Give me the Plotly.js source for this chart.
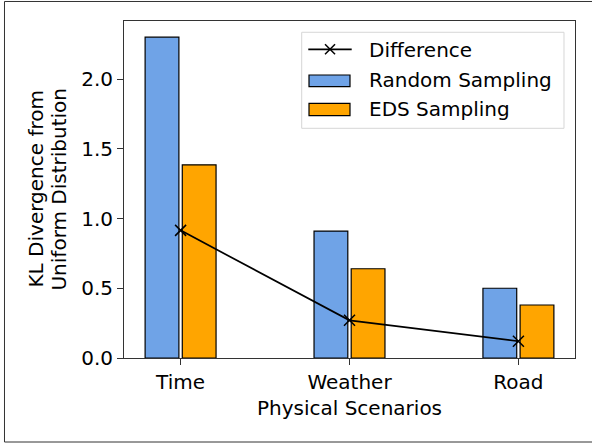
<!DOCTYPE html>
<html>
<head>
<meta charset="utf-8">
<script src="https://cdn.plot.ly/plotly-3.0.1.min.js"></script>
<style>
  html, body { margin: 0; padding: 0; background: #ffffff; overflow: hidden; }
  #chart { width: 592px; height: 443px; }
</style>
</head>
<body>
<div id="chart"></div>
<script>
// Data
const categories = ["Time", "Weather", "Road"];
const categoryPos = [0, 1, 2];
const randomSampling = [2.30, 0.91, 0.50];
const edsSampling = [1.385, 0.64, 0.38];
const difference = [0.915, 0.27, 0.12];
const yTickVals = [0.0, 0.5, 1.0, 1.5, 2.0];
const legendNames = ["Difference", "Random Sampling", "EDS Sampling"];

const FONT = "DejaVu Sans, Verdana, sans-serif";
const FS = 20;
const BLUE = "#6FA3E7";
const ORANGE = "#FFA500";

const traces = [
  {
    type: "scatter", mode: "lines+markers", name: legendNames[0],
    x: categoryPos, y: difference,
    line: { color: "#000000", width: 1.7 },
    marker: { symbol: "x-thin", size: 11, color: "#000000", line: { color: "#000000", width: 1.5 } },
    hoverinfo: "skip"
  },
  {
    type: "bar", name: legendNames[1],
    x: categoryPos, y: randomSampling,
    width: 0.2, offset: -0.21,
    marker: { color: BLUE, line: { color: "#000000", width: 1.2 } },
    hoverinfo: "skip"
  },
  {
    type: "bar", name: legendNames[2],
    x: categoryPos, y: edsSampling,
    width: 0.2, offset: 0.01,
    marker: { color: ORANGE, line: { color: "#000000", width: 1.2 } },
    hoverinfo: "skip"
  }
];

// Figure frame (top, left, bottom edges) in paper coordinates
const frameShapes = [
  { type: "line", xref: "paper", yref: "paper", x0: -0.2650, x1: 1.06, y0: 1.0579, y1: 1.0579,
    line: { color: "#333333", width: 1 } },
  { type: "line", xref: "paper", yref: "paper", x0: -0.2650, x1: -0.2650, y0: 1.0579, y1: -0.2493,
    line: { color: "#333333", width: 1 } },
  { type: "line", xref: "paper", yref: "paper", x0: -0.2650, x1: 1.06, y0: -0.2493, y1: -0.2493,
    line: { color: "#333333", width: 1 } }
];

// Custom legend (matplotlib style) in paper coordinates
const legendShapes = [
  { type: "rect", xref: "paper", yref: "paper", x0: 0.3940, x1: 0.9756, y0: 0.6816, y1: 0.9665,
    line: { color: "#d6d6d6", width: 1 }, fillcolor: "rgba(255,255,255,0.8)" },
  { type: "line", xref: "paper", yref: "paper", x0: 0.4086, x1: 0.5049, y0: 0.9160, y1: 0.9160,
    line: { color: "#000000", width: 1.7 } },
  { type: "line", xref: "paper", yref: "paper", x0: 0.4568 - 0.0111, x1: 0.4568 + 0.0111,
    y0: 0.9160 - 0.0148, y1: 0.9160 + 0.0148, line: { color: "#000000", width: 1.5 } },
  { type: "line", xref: "paper", yref: "paper", x0: 0.4568 - 0.0111, x1: 0.4568 + 0.0111,
    y0: 0.9160 + 0.0148, y1: 0.9160 - 0.0148, line: { color: "#000000", width: 1.5 } },
  { type: "rect", xref: "paper", yref: "paper", x0: 0.4102, x1: 0.5011, y0: 0.8050, y1: 0.8398,
    line: { color: "#000000", width: 1.2 }, fillcolor: BLUE },
  { type: "rect", xref: "paper", yref: "paper", x0: 0.4102, x1: 0.5011, y0: 0.7190, y1: 0.7558,
    line: { color: "#000000", width: 1.2 }, fillcolor: ORANGE }
];
const legendRowsY = [0.9152, 0.8249, 0.7389];
const legendText = legendNames.map((n, i) => ({
  text: n, xref: "paper", yref: "paper", x: 0.5395, y: legendRowsY[i],
  xanchor: "left", yanchor: "middle", showarrow: false,
  font: { family: FONT, size: FS, color: "#000000" }
}));

const layout = {
  width: 592, height: 443,
  margin: { l: 124, r: 17, t: 21, b: 85 },
  paper_bgcolor: "#ffffff", plot_bgcolor: "#ffffff",
  font: { family: FONT, size: FS, color: "#000000" },
  barmode: "overlay",
  showlegend: false,
  xaxis: {
    range: [-0.335, 2.335],
    tickmode: "array", tickvals: categoryPos, ticktext: categories,
    ticks: "outside", ticklen: 6, tickwidth: 1, tickcolor: "#333333",
    showline: true, linecolor: "#333333", linewidth: 1, mirror: true,
    showgrid: false, zeroline: false,
    tickfont: { family: FONT, size: FS, color: "#000000" },
    title: { text: "Physical Scenarios", font: { family: FONT, size: FS, color: "#000000" }, standoff: 7 }
  },
  yaxis: {
    range: [0, 2.416],
    tickmode: "array", tickvals: yTickVals,
    tickformat: ".1f",
    ticks: "outside", ticklen: 6, tickwidth: 1, tickcolor: "#333333",
    showline: true, linecolor: "#333333", linewidth: 1, mirror: true,
    showgrid: false, zeroline: false,
    tickfont: { family: FONT, size: FS, color: "#000000" }
  },
  shapes: frameShapes.concat(legendShapes),
  annotations: [
    { text: "KL Divergence from", xref: "paper", yref: "paper",
      x: -0.1973, y: 0.5, xanchor: "center", yanchor: "middle",
      textangle: -90, showarrow: false,
      font: { family: FONT, size: FS, color: "#000000" } },
    { text: "Uniform Distribution", xref: "paper", yref: "paper",
      x: -0.1463, y: 0.5, xanchor: "center", yanchor: "middle",
      textangle: -90, showarrow: false,
      font: { family: FONT, size: FS, color: "#000000" } }
  ].concat(legendText)
};

Plotly.newPlot("chart", traces, layout, { staticPlot: true, displayModeBar: false });
</script>
</body>
</html>
